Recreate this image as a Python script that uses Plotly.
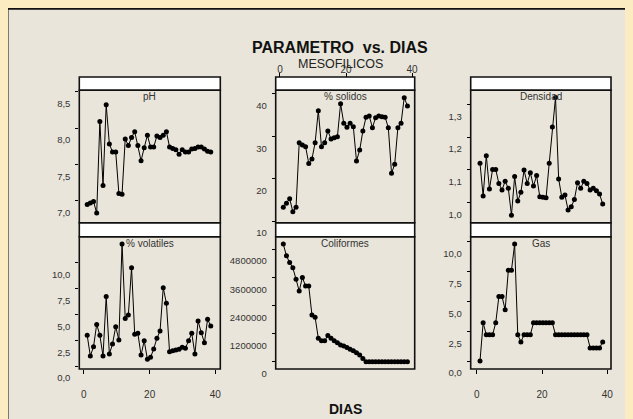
import plotly.graph_objects as go

# ---------------- data ----------------
DIAS = [1.0, 1.96, 2.93, 3.89, 4.86, 5.82, 6.78, 7.75, 8.71, 9.68,
        10.64, 11.61, 12.57, 13.53, 14.5, 15.46, 16.42, 17.39, 18.35, 19.32,
        20.28, 21.24, 22.21, 23.17, 24.14, 25.1, 26.06, 27.03, 27.99, 28.96,
        29.92, 30.88, 31.85, 32.81, 33.78, 34.74, 35.71, 36.67, 37.63, 38.6]

PH = [6.95, 6.97, 6.99, 6.83, 8.09, 7.21, 8.32, 7.78, 7.67, 7.67,
      7.10, 7.09, 7.85, 7.76, 7.87, 7.95, 7.76, 7.55, 7.73, 7.90,
      7.74, 7.74, 7.89, 7.87, 7.90, 7.95, 7.74, 7.72, 7.70, 7.64,
      7.70, 7.67, 7.67, 7.71, 7.72, 7.74, 7.74, 7.71, 7.68, 7.67]

SOLIDOS = [13.23, 14.18, 15.27, 12.2, 13.23, 28.5, 27.95, 27.55, 23.6, 24.64,
           28.5, 36.06, 27.55, 28.5, 31.26, 29.37, 29.68, 29.92, 37.72, 33.07,
           32.13, 33.07, 32.28, 24.17, 26.77, 31.26, 34.49, 34.8, 32.05, 34.41,
           34.8, 34.6, 34.49, 32.05, 21.27, 23.39, 32.05, 33.07, 39.13, 37.17]

DENSIDAD = [1.120, 1.020, 1.143, 1.041, 1.101, 1.101, 1.058, 1.038, 1.065, 1.043,
            0.961, 1.079, 1.004, 1.031, 1.099, 1.058, 1.091, 1.050, 1.082, 1.017,
            1.016, 1.014, 1.120, 1.231, 1.321, 1.072, 1.016, 1.023, 0.977, 0.987,
            1.009, 1.060, 1.043, 1.065, 1.058, 1.038, 1.043, 1.036, 1.026, 0.995]

VOLATILES = [2.97, 0.97, 1.87, 4.03, 2.97, 0.97, 6.74, 1.16, 2.13, 3.81,
             2.52, 11.81, 4.61, 4.94, 9.52, 3.07, 3.16, 1.06, 2.45, 0.65,
             0.84, 1.65, 2.68, 3.39, 7.58, 6.07, 1.39, 1.48, 1.55, 1.62,
             1.81, 1.71, 2.45, 3.16, 1.16, 4.36, 3.23, 2.26, 4.52, 3.87]

COLIFORMES = [5010000, 4510000, 4220000, 4000000, 3510000, 3010000, 3590000, 3220000, 3220000, 1990000,
              1890000, 1000000, 890000, 890000, 1120000, 1000000, 890000, 810000, 710000, 670000,
              610000, 530000, 470000, 380000, 290000, 140000, 0, 0, 0, 0,
              0, 0, 0, 0, 0, 0, 0, 0, 0, 0]

GAS = [0, 3.2, 2.2, 2.2, 2.2, 3.2, 5.4, 5.4, 4.3, 7.6,
       7.6, 9.8, 2.2, 1.6, 2.2, 2.2, 2.2, 3.2, 3.2, 3.2,
       3.2, 3.2, 3.2, 3.2, 2.2, 2.2, 2.2, 2.2, 2.2, 2.2,
       2.2, 2.2, 2.2, 2.2, 2.2, 1.1, 1.1, 1.1, 1.1, 1.6]

PANEL_TITLES = ["pH", "% solidos", "Densidad", "% volatiles", "Coliformes", "Gas"]

PH_TICKS = [7.0, 7.5, 8.0, 8.5]
PH_LABELS = ["7,0", "7,5", "8,0", "8,5"]
SOL_TICKS = [10, 20, 30, 40]
SOL_LABELS = ["10", "20", "30", "40"]
DEN_TICKS = [1.0, 1.1, 1.2, 1.3]
DEN_LABELS = ["1,0", "1,1", "1,2", "1,3"]
VOL_TICKS = [0, 2.5, 5.0, 7.5, 10.0]
VOL_LABELS = ["0,0", "2,5", "5,0", "7,5", "10,0"]
COL_TICKS = [0, 1200000, 2400000, 3600000, 4800000]
COL_LABELS = ["0", "1200000", "2400000", "3600000", "4800000"]
GAS_TICKS = [0, 2.5, 5.0, 7.5, 10.0]
GAS_LABELS = ["0,0", "2,5", "5,0", "7,5", "10,0"]
X_TICKS = [0, 20, 40]
X_LABELS = ["0", "20", "40"]

TITLE = "PARAMETRO\u00a0\u00a0vs. DIAS"
SUBTITLE = "MESOFILICOS"
XTITLE = "DIAS"

# ---------------- layout helpers ----------------
W, H = 633, 419
FONT = "Liberation Sans"
OFF = 8.0  # the page places the figure 8 px in from the top-left corner
PAGE_BG = "#FBEDC1"


def px(x):
    return (x - OFF) / W


def py(y):
    return 1 - (y - OFF) / H


COLS = [(79.3, 220.3), (275.7, 414.7), (470.7, 611.0)]
ROWS = [  # (strip top, plot top, plot bottom)
    (77.0, 90.3, 222.7),
    (222.7, 236.7, 369.0),
]
XRANGES = [(-1.4, 41.5), (-1.3, 40.8), (-1.85, 41.14)]
YRANGES = [(6.698, 8.519), (9.60, 40.87), (0.938, 1.343),
           (-0.29, 12.52), (-311000, 5324000), (-0.67, 10.42)]
YTICKS = [(PH_TICKS, PH_LABELS), (SOL_TICKS, SOL_LABELS), (DEN_TICKS, DEN_LABELS),
          (VOL_TICKS, VOL_LABELS), (COL_TICKS, COL_LABELS), (GAS_TICKS, GAS_LABELS)]
SERIES = [PH, SOLIDOS, DENSIDAD, VOLATILES, COLIFORMES, GAS]

fig = go.Figure()
shapes = []
annotations = []
layout_axes = {}

# outer frame
shapes.append(dict(type="rect", xref="paper", yref="paper",
                   x0=px(7.5), x1=1.2, y0=-0.2, y1=py(8.8),
                   fillcolor="#E9E5DA", line=dict(color="#111111", width=2),
                   layer="below"))

for k in range(6):
    r, c = divmod(k, 3)
    c0, c1 = COLS[c]
    s_top, p_top, p_bot = ROWS[r]
    sfx = "" if k == 0 else str(k + 1)

    fig.add_trace(go.Scatter(
        x=DIAS, y=SERIES[k], mode="lines+markers",
        xaxis="x" + sfx, yaxis="y" + sfx,
        line=dict(color="black", width=1),
        marker=dict(color="black", size=5),
        cliponaxis=False, showlegend=False, hoverinfo="skip"))

    xa = dict(domain=[px(c0), px(c1)], anchor="y" + sfx, range=list(XRANGES[c]),
              showgrid=False, zeroline=False, showline=False, automargin=False,
              ticks="", showticklabels=False, fixedrange=True)
    if k in (3, 5):
        xa.update(ticks="outside", ticklen=4, tickwidth=1, tickcolor="black",
                  tickvals=X_TICKS, ticktext=X_LABELS, showticklabels=True,
                  ticklabelstandoff=12,
                  tickfont=dict(family=FONT, size=10, color="#333333"))
    if k == 1:
        xa.update(anchor="free", position=py(s_top), side="top",
                  ticks="outside", ticklen=4, tickwidth=1, tickcolor="black",
                  tickvals=X_TICKS, ticktext=X_LABELS, showticklabels=True,
                  ticklabelstandoff=-4,
                  tickfont=dict(family=FONT, size=10, color="#333333"))
    ya = dict(domain=[py(p_bot), py(p_top)], anchor="x" + sfx, range=list(YRANGES[k]),
              showgrid=False, zeroline=False, showline=False, automargin=False,
              ticks="outside", ticklen=3, tickwidth=1, tickcolor="black",
              tickvals=YTICKS[k][0], ticktext=YTICKS[k][1],
              ticklabelshift=12, ticklabelstandoff=3,
              tickfont=dict(family=FONT, size=9.5, color="#333333"),
              fixedrange=True)
    layout_axes["xaxis" + sfx] = xa
    layout_axes["yaxis" + sfx] = ya

    # strip box
    shapes.append(dict(type="rect", xref="paper", yref="paper",
                       x0=px(c0), x1=px(c1), y0=py(p_top), y1=py(s_top),
                       fillcolor="white", line=dict(color="#111111", width=1.6),
                       layer="below"))
    # plot border
    shapes.append(dict(type="rect", xref="paper", yref="paper",
                       x0=px(c0), x1=px(c1), y0=py(p_bot), y1=py(p_top),
                       fillcolor="rgba(0,0,0,0)", line=dict(color="#111111", width=1.6),
                       layer="above"))
    # panel label
    annotations.append(dict(xref="paper", yref="paper",
                            x=px((c0 + c1) / 2), y=py(p_top + 6.5),
                            text=PANEL_TITLES[k], showarrow=False,
                            xanchor="center", yanchor="middle",
                            font=dict(family=FONT, size=10, color="#333333")))

annotations.append(dict(xref="paper", yref="paper", x=px(340), y=py(47),
                        text="<b>" + TITLE + "</b>", showarrow=False,
                        xanchor="center", yanchor="middle",
                        font=dict(family=FONT, size=16, color="#111111")))
annotations.append(dict(xref="paper", yref="paper", x=px(340), y=py(64),
                        text=SUBTITLE, showarrow=False,
                        xanchor="center", yanchor="middle",
                        font=dict(family=FONT, size=12.5, color="#222222")))
annotations.append(dict(xref="paper", yref="paper", x=px(345), y=py(409),
                        text="<b>" + XTITLE + "</b>", showarrow=False,
                        xanchor="center", yanchor="middle",
                        font=dict(family=FONT, size=14, color="#111111")))

fig.update_layout(
    width=W, height=H, autosize=False,
    margin=dict(l=0, r=0, t=0, b=0, pad=0, autoexpand=False),
    paper_bgcolor=PAGE_BG, plot_bgcolor="white",
    shapes=shapes, annotations=annotations, showlegend=False,
    font=dict(family=FONT, color="#333333"),
    **layout_axes)

fig.write_html("out.html",
               post_script="document.body.style.background='" + PAGE_BG + "';")
